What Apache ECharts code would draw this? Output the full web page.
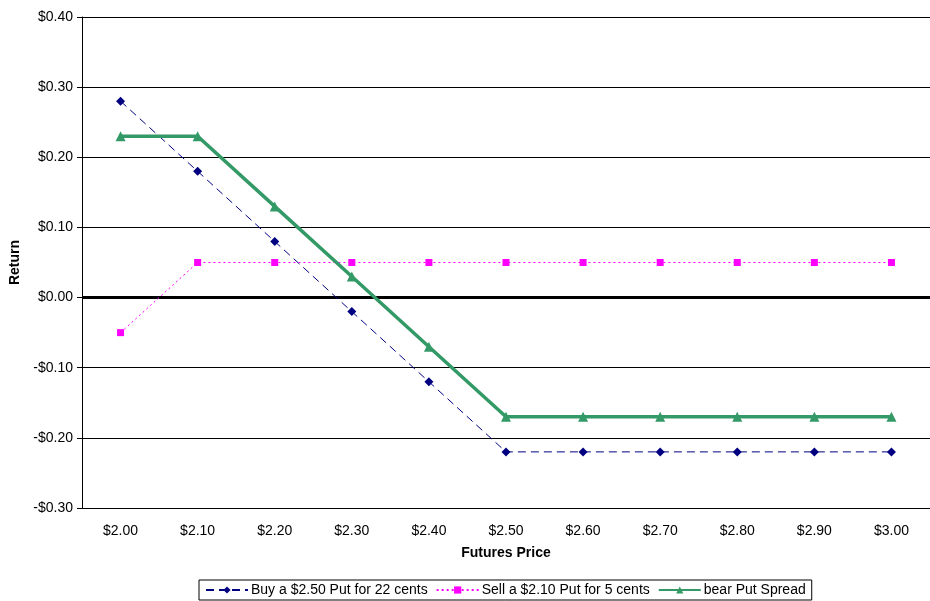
<!DOCTYPE html>
<html><head><meta charset="utf-8">
<script src="https://cdn.jsdelivr.net/npm/echarts@6/dist/echarts.min.js"></script>
<style>html,body{margin:0;padding:0;background:#fff}#c{width:930px;height:601px}</style>
</head><body><div id="c"></div>
<script>
const categories = ['$2.00','$2.10','$2.20','$2.30','$2.40','$2.50','$2.60','$2.70','$2.80','$2.90','$3.00'];
const buyPut = [0.28,0.18,0.08,-0.02,-0.12,-0.22,-0.22,-0.22,-0.22,-0.22,-0.22];
const sellPut = [-0.05,0.05,0.05,0.05,0.05,0.05,0.05,0.05,0.05,0.05,0.05];
const bearSpread = [0.23,0.23,0.13,0.03,-0.07,-0.17,-0.17,-0.17,-0.17,-0.17,-0.17];
const seriesNames = ['Buy a $2.50 Put for 22 cents','Sell a $2.10 Put for 5 cents','bear Put Spread'];

const font = 'Liberation Sans, Arial, sans-serif';
const chart = echarts.init(document.getElementById('c'));
chart.setOption({
  animation: false,
  textStyle: {fontFamily: font},
  grid: {left: 82, right: 0, top: 17, bottom: 93, containLabel: false, outerBoundsMode: 'none'},
  xAxis: {
    type: 'category', data: categories, boundaryGap: true,
    name: 'Futures Price', nameLocation: 'middle', nameGap: 38,
    nameTextStyle: {fontWeight: 'bold', fontSize: 14, color: '#000', fontFamily: font},
    axisLine: {lineStyle: {color: '#888', width: 1}},
    axisTick: {show: false},
    axisLabel: {color: '#000', fontSize: 14, margin: 16, fontFamily: font},
    splitLine: {show: false}
  },
  yAxis: {
    type: 'value', min: -0.3, max: 0.4, interval: 0.1,
    name: 'Return', nameLocation: 'middle', nameGap: 60, nameRotate: 90,
    nameTextStyle: {fontWeight: 'bold', fontSize: 14, color: '#000', fontFamily: font},
    axisLine: {show: true, lineStyle: {color: '#000', width: 1}},
    axisTick: {show: true, length: 5, lineStyle: {color: '#000'}},
    axisLabel: {color: '#000', fontSize: 14, margin: 9, fontFamily: font,
      formatter: v => (v < 0 ? '-$' : '$') + Math.abs(v).toFixed(2)},
    splitLine: {show: true, lineStyle: {color: '#000', width: 1}}
  },
  legend: {
    bottom: 1, left: 199, itemGap: 8, itemWidth: 42, itemHeight: 9,
    borderColor: '#000', borderWidth: 1, padding: [3, 6, 3, 6],
    textStyle: {color: '#000', fontSize: 14, fontFamily: font, padding: [0, 0, 0, -2]},
    data: seriesNames
  },
  series: [
    {name: seriesNames[0], type: 'line', data: buyPut, symbol: 'diamond', symbolSize: 9,
     itemStyle: {color: '#000080'}, lineStyle: {color: '#000080', width: 1, type: [8, 5]}, z: 3},
    {name: seriesNames[1], type: 'line', data: sellPut, symbol: 'rect', symbolSize: 7,
     itemStyle: {color: '#FF00FF'}, lineStyle: {color: '#FF00FF', width: 1, type: [2, 3]}, z: 3},
    {name: seriesNames[2], type: 'line', data: bearSpread, symbol: 'triangle', symbolSize: 10,
     itemStyle: {color: '#339966'}, lineStyle: {color: '#339966', width: 3.5}, z: 4,
     markLine: {silent: true, symbol: 'none', label: {show: false},
       lineStyle: {color: '#000', width: 3, type: 'solid'}, data: [{yAxis: 0}], z: 2}}
  ]
});
</script></body></html>
